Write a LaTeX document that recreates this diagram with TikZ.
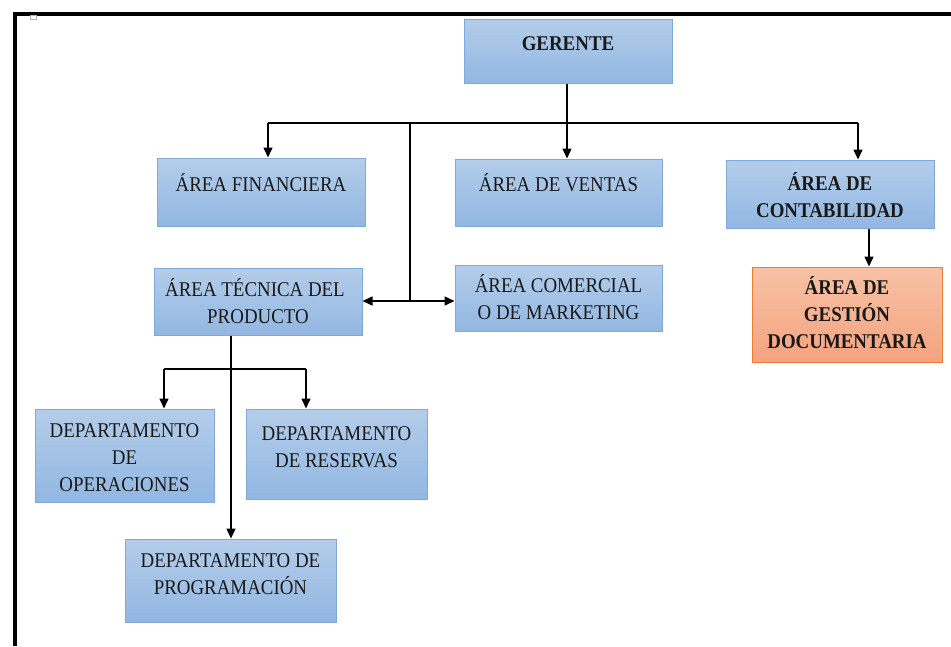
\documentclass[tikz,border=0pt]{standalone}
\usepackage{fontspec}
\setmainfont{Liberation Serif}[FakeStretch=0.9]
\usetikzlibrary{arrows.meta}
\definecolor{boxtop}{RGB}{180,205,234}
\definecolor{boxbot}{RGB}{146,183,226}
\definecolor{boxline}{RGB}{125,170,222}
\definecolor{orgtop}{RGB}{248,194,166}
\definecolor{orgbot}{RGB}{244,163,127}
\definecolor{orgline}{RGB}{237,125,49}
\tikzset{
 bluebox/.style={rectangle, draw=boxline, line width=1pt, top color=boxtop, bottom color=boxbot, inner sep=0pt},
 orangebox/.style={rectangle, draw=orgline, line width=1pt, top color=orgtop, bottom color=orgbot, inner sep=0pt},
 lbl/.style={anchor=base, inner sep=0pt, font=\fontsize{21}{27}\selectfont, text=black!90},
 blbl/.style={anchor=base, inner sep=0pt, font=\fontsize{21}{27}\selectfont\bfseries, text=black!90},
 conn/.style={line width=1.5pt},
 arr/.style={line width=1.5pt, -{Triangle[length=10pt,width=9pt]}},
}
\begin{document}
\begin{tikzpicture}[x=1pt,y=-1pt]
\useasboundingbox (0,0) rectangle (951,646);
% frame
\coordinate (fa) at (15,646);
\coordinate (fb) at (15,13.5);
\coordinate (fc) at (951,13.5);
\draw[line width=4pt] (fa) -- (fb) -- (fc);
\draw[gray!60, line width=0.6pt] (30,15) rectangle (36,19);

% boxes
\node[bluebox, minimum width=208pt, minimum height=64pt] (ger) at (568,51) {};
\node[bluebox, minimum width=208pt, minimum height=68pt] (fin) at (261,192) {};
\node[bluebox, minimum width=207pt, minimum height=67pt] (ven) at (558.5,192.5) {};
\node[bluebox, minimum width=208pt, minimum height=68pt] (con) at (830,194) {};
\node[orangebox, minimum width=190pt, minimum height=95pt] (ges) at (847,314.5) {};
\node[bluebox, minimum width=208pt, minimum height=67pt] (tec) at (258,301.5) {};
\node[bluebox, minimum width=207pt, minimum height=66pt] (com) at (558.5,298) {};
\node[bluebox, minimum width=179pt, minimum height=93pt] (ope) at (124.5,455.5) {};
\node[bluebox, minimum width=181pt, minimum height=90pt] (res) at (336.5,454) {};
\node[bluebox, minimum width=211pt, minimum height=83pt] (pro) at (230.5,580.5) {};

% texts
\node[blbl] (tger) at (568,50) {GERENTE};
\node[lbl] (tfin) at (261,191) {ÁREA FINANCIERA};
\node[lbl] (tven) at (558.5,191) {ÁREA DE VENTAS};
\node[blbl] (tcon1) at (830,190) {ÁREA DE};
\node[blbl] (tcon2) at (830,217) {CONTABILIDAD};
\node[blbl] (tges1) at (847,294) {ÁREA DE};
\node[blbl] (tges2) at (847,321) {GESTIÓN};
\node[blbl] (tges3) at (847,348) {DOCUMENTARIA};
\node[lbl] (ttec1) at (255,296) {ÁREA TÉCNICA DEL};
\node[lbl] (ttec2) at (258,323) {PRODUCTO};
\node[lbl] (tcom1) at (558.5,292) {ÁREA COMERCIAL};
\node[lbl] (tcom2) at (558.5,319) {O DE MARKETING};
\node[lbl] (tope1) at (124.5,437) {DEPARTAMENTO};
\node[lbl] (tope2) at (124.5,464) {DE};
\node[lbl] (tope3) at (124.5,491) {OPERACIONES};
\node[lbl] (tres1) at (336.5,440) {DEPARTAMENTO};
\node[lbl] (tres2) at (336.5,467) {DE RESERVAS};
\node[lbl] (tpro1) at (230.5,567) {DEPARTAMENTO DE};
\node[lbl] (tpro2) at (230.5,594) {PROGRAMACIÓN};

% connectors
\coordinate (busL) at (268,123);
\coordinate (busR) at (858,123);
\coordinate (busT) at (410,123);
\coordinate (busC) at (567,123);
\coordinate (mid) at (410,301);
\draw[conn] (ger.south -| busC) -- (busC);
\draw[conn] (busL) -- (busR);
\draw[arr] (busL) -- (busL |- fin.north);
\draw[arr] (busC) -- (busC |- ven.north);
\draw[arr] (busR) -- (busR |- con.north);
\draw[conn] (busT) -- (mid);
\draw[arr] (mid) -- (tec.east |- mid);
\draw[arr] (mid) -- (com.west |- mid);
\coordinate (cgx) at (869,0);
\draw[arr] (con.south -| cgx) -- (ges.north -| cgx);
\coordinate (tx) at (231,0);
\draw[arr] (tec.south -| tx) -- (pro.north -| tx);
\coordinate (barL) at (164,369);
\coordinate (barR) at (306,369);
\coordinate (barM) at (231,369);
\draw[conn] (barL) -- (barR);
\draw[arr] (barL) -- (barL |- ope.north);
\draw[arr] (barR) -- (barR |- res.north);
\end{tikzpicture}
\end{document}
